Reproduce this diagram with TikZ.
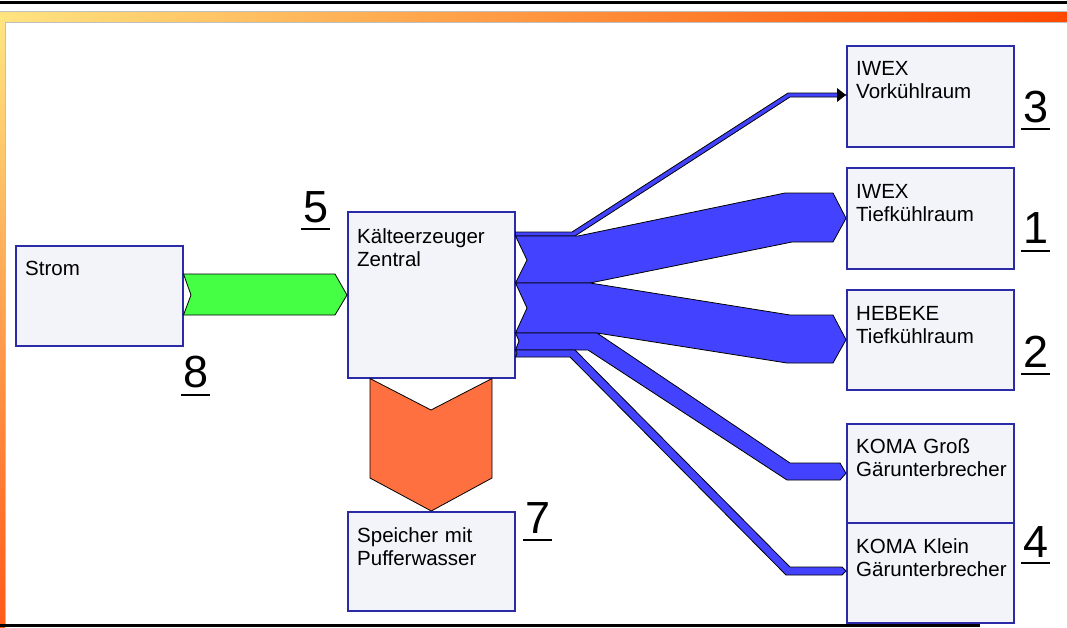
\documentclass[tikz,border=0pt]{standalone}
\usepackage{fontspec}
\setmainfont{Liberation Sans}
\definecolor{boxfill}{HTML}{F3F3FA}
\definecolor{boxline}{HTML}{2B2BA8}
\definecolor{flowblue}{HTML}{4343FF}
\definecolor{flowgreen}{HTML}{44FF44}
\definecolor{floworange}{HTML}{FF7040}
\definecolor{barleft}{HTML}{FFE480}
\definecolor{barmid}{HTML}{FFAA50}
\definecolor{barright}{HTML}{FF4800}
\definecolor{barbottom}{HTML}{FF5A1A}
\begin{document}
\begin{tikzpicture}[x=1pt,y=-1pt,
  kasten/.style={draw=boxline,fill=boxfill,line width=1.5pt,anchor=north west,minimum width=167pt,inner sep=0pt},
  beschr/.style={anchor=base west,inner sep=0pt,text width=155pt,align=left,font=\fontsize{20.5}{23}\selectfont},
  fluss/.style={draw=black,line width=0.8pt,line join=miter},
  nr/.style={anchor=base west,inner xsep=2pt,inner ysep=0pt,font=\fontsize{45}{45}\selectfont},
  strich/.style={line width=2pt}]
\useasboundingbox (0,0) rectangle (1067,627);

\fill (0,1) rectangle (1067,3.5);
\shade[left color=barleft,middle color=barmid,right color=barright] (0,11) rectangle (1067,22);
\draw[black!25] (0,11) -- (1067,11);
\draw[black!25] (0,22.5) -- (1067,22.5);
\shade[top color=barleft,bottom color=barbottom] (0,22) rectangle (5,627);
\draw[black!25] (5.5,22.5) -- (5.5,627);
\fill (0,624) rectangle (980,626.5);

\node[kasten,minimum height=100pt] (strom) at (15,245) {};
\node[kasten,minimum height=166pt] (kz) at (347,211) {};
\node[kasten,minimum height=99pt] (sp) at (347,511) {};
\node[kasten,minimum height=101pt] (iwexv) at (846,45) {};
\node[kasten,minimum height=101pt] (iwext) at (846,167) {};
\node[kasten,minimum height=100pt] (heb) at (846,289) {};
\node[kasten,minimum height=99pt] (kg) at (846,423) {};
\node[kasten,minimum height=100pt] (kk) at (846,522) {};

\draw[fluss,fill=flowgreen] (strom.east |- 0,274) -- (335,274) -- (kz.west |- 0,295) -- (335,315) -- (strom.east |- 0,315) -- (191,295) -- cycle;
\draw[fluss,fill=floworange] (kz.south -| 370,0) -- (431,410) -- (kz.south -| 492,0) -- (492,478) -- (sp.north) -- (370,478) -- cycle;

\draw[fluss,fill=flowblue] (kz.east |- 0,232) -- (572,232) -- (788,93) -- (838,93) -- (iwexv.west |- 0,95) -- (838,97) -- (790,97) -- (575,236) -- (kz.east |- 0,236) -- cycle;
\fill (837,88) -- (iwexv.west |- 0,95) -- (837,102) -- cycle;
\draw[fluss,fill=flowblue] (kz.east |- 0,236) -- (578,236) -- (785,193) -- (833,193) -- (iwext.west) -- (833,242) -- (792,242) -- (590,283) -- (kz.east |- 0,283) -- (527,260) -- cycle;
\draw[fluss,fill=flowblue] (kz.east |- 0,283) -- (590,283) -- (790,315) -- (833,315) -- (heb.west) -- (833,363) -- (787,363) -- (597,333) -- (kz.east |- 0,333) -- (527,308) -- cycle;
\draw[fluss,fill=flowblue] (kz.east |- 0,333) -- (597,333) -- (790,463) -- (840,463) -- (kg.west) -- (840,480) -- (787,480) -- (588,350) -- (kz.east |- 0,350) -- (519,341) -- cycle;
\draw[fluss,fill=flowblue] (kz.east |- 0,350) -- (575,350) -- (790,567) -- (842,567) -- (kk.west |- 0,571) -- (842,575) -- (786,575) -- (570,357) -- (kz.east |- 0,357) -- (517,353) -- cycle;

\node[beschr] (strom-t) at ([shift={(10,30)}]strom.north west) {Strom};
\node[beschr] (kz-t) at ([shift={(10,32)}]kz.north west) {Kälteerzeuger\\Zentral};
\node[beschr] (sp-t) at ([shift={(10,31)}]sp.north west) {Speicher mit\\Pufferwasser};
\node[beschr] (iwexv-t) at ([shift={(10,30)}]iwexv.north west) {IWEX\\Vorkühlraum};
\node[beschr] (iwext-t) at ([shift={(10,31)}]iwext.north west) {IWEX\\Tiefkühlraum};
\node[beschr] (heb-t) at ([shift={(10,31)}]heb.north west) {HEBEKE\\Tiefkühlraum};
\node[beschr] (kg-t) at ([shift={(10,30)}]kg.north west) {KOMA Groß\\Gärunterbrecher};
\node[beschr] (kk-t) at ([shift={(10,31)}]kk.north west) {KOMA Klein\\Gärunterbrecher};

\node[nr] (n3) at (1021,122) {3};
\node[nr] (n1) at (1021,243) {1};
\node[nr] (n2) at (1021,367) {2};
\node[nr] (n4) at (1021,557) {4};
\node[nr] (n5) at (301,222) {5};
\node[nr] (n7) at (523,533) {7};
\node[nr] (n8) at (181,387) {8};
\draw[strich] ([yshift=-7pt]n3.base west) -- ([yshift=-7pt]n3.base east);
\draw[strich] ([yshift=-8pt]n1.base west) -- ([yshift=-8pt]n1.base east);
\draw[strich] ([yshift=-7pt]n2.base west) -- ([yshift=-7pt]n2.base east);
\draw[strich] ([yshift=-6pt]n4.base west) -- ([yshift=-6pt]n4.base east);
\draw[strich] ([yshift=-7pt]n5.base west) -- ([yshift=-7pt]n5.base east);
\draw[strich] ([yshift=-7pt]n7.base west) -- ([yshift=-7pt]n7.base east);
\draw[strich] ([yshift=-8pt]n8.base west) -- ([yshift=-8pt]n8.base east);
\end{tikzpicture}
\end{document}
